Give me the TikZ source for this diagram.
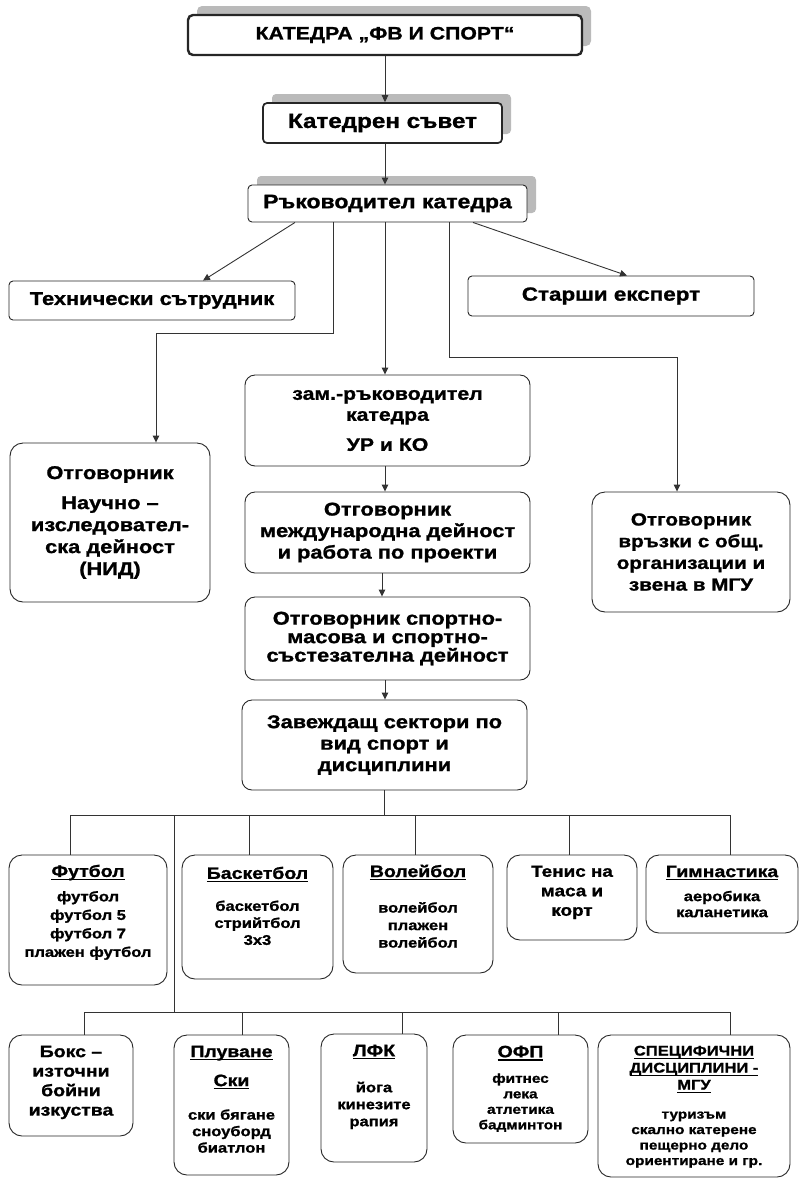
\documentclass[tikz,border=0pt]{standalone}
\usepackage{fontspec}
\setmainfont{Liberation Sans}[FakeStretch=1.18, BoldFeatures={FakeBold=1.2}]
\usetikzlibrary{arrows.meta,shadows}
\newcommand{\setfs}[2]{\fontsize{#1}{#2}\selectfont}
\newcommand{\myul}[1]{\setbox0=\hbox{#1}\leavevmode\rlap{\vrule height -2.0pt depth 3.3pt width \wd0}\box0}
\begin{document}
\begin{tikzpicture}[x=1pt,y=-1pt,
  every node/.style={align=center, inner sep=0pt, text=black},
  box/.style={draw=black!85, fill=white, line width=0.9pt, rounded corners=4pt},
  mbox/.style={box, rounded corners=10pt},
  rbox/.style={box, rounded corners=13pt},
  shad/.style={drop shadow={shadow xshift=9pt, shadow yshift=9pt, fill=black!27, opacity=1}},
  conn/.style={draw=black!80, line width=0.9pt},
  arr/.style={conn, -{Triangle[length=7pt,width=6.5pt]}},
  lbl/.style={anchor=north},
]
\useasboundingbox (0,0) rectangle (799,1179);

% ---------- top hierarchy ----------
\node[box, shad, line width=2.4pt, rounded corners=5pt, minimum width=394pt, minimum height=40pt,
      font=\bfseries\setfs{18}{21}] (top) at (385,35) {КАТЕДРА „ФВ И СПОРТ“};
\node[box, shad, line width=1.7pt, minimum width=239pt, minimum height=40pt,
      font=\bfseries\setfs{20.5}{24}] (council) at (382.5,123) {Катедрен съвет};
\node[box, shad, minimum width=279pt, minimum height=37pt,
      font=\bfseries\setfs{19.5}{23}] (head) at (387.5,203.5) {Ръководител катедра};

\node[box, minimum width=286pt, minimum height=39pt, font=\bfseries\setfs{18.5}{22}] (tech) at (152,300.5) {Технически сътрудник};
\node[box, minimum width=286pt, minimum height=40pt, font=\bfseries\setfs{19}{22}] (senior) at (611,296) {Старши експерт};

\node[rbox, minimum width=200pt, minimum height=159pt, font=\bfseries\setfs{18.5}{22}] (nid) at (110,522.5)
  {Отговорник\\[8pt]Научно –\\изследовател-\\ска дейност\\(НИД)};
\node[rbox, minimum width=198pt, minimum height=120pt, font=\bfseries\setfs{17.5}{21.7}] (links) at (691,552)
  {Отговорник\\връзки с общ.\\организации и\\звена в МГУ};

\node[mbox, minimum width=285pt, minimum height=91pt, font=\bfseries\setfs{18}{21}] (zam) at (387.5,420.5)
  {зам.-ръководител\\катедра\\[9pt]УР и КО};
\node[mbox, minimum width=285pt, minimum height=81pt, font=\bfseries\setfs{18.5}{21.5}] (intl) at (387.5,532.5)
  {Отговорник\\международна дейност\\и работа по проекти};
\node[mbox, minimum width=285pt, minimum height=83pt, font=\bfseries\setfs{18.5}{18.5}] (sport) at (387.5,638.5)
  {Отговорник спортно-\\масова и спортно-\\състезателна дейност};
\node[mbox, minimum width=285pt, minimum height=90pt, font=\bfseries\setfs{18.5}{21.5}] (sectors) at (384.5,745)
  {Завеждащ сектори по\\вид спорт и\\дисциплини};

% ---------- connectors (top) ----------
\draw[arr] (top.south) -- (top.south |- council.north);
\draw[arr] ([xshift=2.5pt]council.south) -- ([xshift=2.5pt]council.south |- head.north);
\draw[arr] ([xshift=-92.5pt]head.south) -- ([xshift=51pt]tech.north);
\draw[arr] ([xshift=85.5pt]head.south) -- ([xshift=16pt]senior.north);
\coordinate (nidknee) at (333,333);
\draw[arr] ([xshift=-54.5pt]head.south) -- (nidknee) -| ([xshift=46pt]nid.north);
\draw[arr] ([xshift=-2.5pt]head.south) -- ([xshift=-2.5pt]zam.north);
\coordinate (lknee) at (449,357);
\draw[arr] ([xshift=61.5pt]head.south) -- (lknee) -| ([xshift=-14pt]links.north);
\draw[arr] ([xshift=-2.5pt]zam.south) -- ([xshift=-2.5pt]intl.north);
\draw[arr] ([xshift=-5.5pt]intl.south) -- ([xshift=-5.5pt]intl.south |- sport.north);
\draw[arr] ([xshift=-2.5pt]sport.south) -- ([xshift=-2.5pt]sport.south |- sectors.north);

% ---------- sport boxes, row 1 ----------
\node[rbox, minimum width=158pt, minimum height=130pt] (fb) at (88,920) {};
\node[rbox, minimum width=151pt, minimum height=124pt] (bb) at (257.5,917) {};
\node[rbox, minimum width=150pt, minimum height=118pt] (vb) at (418,914) {};
\node[rbox, minimum width=130pt, minimum height=85pt] (tn) at (572,897.5) {};
\node[rbox, minimum width=152pt, minimum height=78pt] (gy) at (722,894) {};

\node[lbl, font=\bfseries\setfs{14}{18.5}] (fbt) at ([yshift=-10pt]fb.north)
  {{\setfs{16.5}{20}\myul{Футбол}}\\[6pt]футбол\\футбол 5\\футбол 7\\плажен футбол};
\node[lbl, font=\bfseries\setfs{14}{17}] (bbt) at ([yshift=-12pt]bb.north)
  {{\setfs{16.5}{20}\myul{Баскетбол}}\\[15pt]баскетбол\\стрийтбол\\3х3};
\node[lbl, font=\bfseries\setfs{14}{17.5}] (vbt) at ([yshift=-10pt]vb.north)
  {{\setfs{16.5}{20}\myul{Волейбол}}\\[18pt]волейбол\\плажен\\волейбол};
\node[lbl, font=\bfseries\setfs{16}{19.5}] (tnt) at ([yshift=-11pt]tn.north)
  {Тенис на\\маса и\\корт};
\node[lbl, font=\bfseries\setfs{14}{16}] (gyt) at ([yshift=-11pt]gy.north)
  {{\setfs{16.5}{20}\myul{Гимнастика}}\\[8pt]аеробика\\каланетика};

% ---------- sport boxes, row 2 ----------
\node[rbox, minimum width=124pt, minimum height=101pt] (bx) at (71,1085.5) {};
\node[rbox, minimum width=115pt, minimum height=140pt] (sw) at (231.5,1105) {};
\node[rbox, minimum width=106pt, minimum height=128pt] (lf) at (374,1098) {};
\node[rbox, minimum width=135pt, minimum height=108pt] (of) at (520.5,1089) {};
\node[rbox, minimum width=192pt, minimum height=142pt] (sp) at (694,1106) {};

\node[lbl, font=\bfseries\setfs{16.5}{19.5}] (bxt) at ([yshift=-11pt]bx.north)
  {Бокс –\\източни\\бойни\\изкуства};
\node[lbl, font=\bfseries\setfs{14}{16.5}] (swt) at ([yshift=-11pt]sw.north)
  {{\setfs{16.5}{20}\myul{Плуване}}\\[12.5pt]{\setfs{16.5}{20}\myul{Ски}}\\[17pt]ски бягане\\сноуборд\\биатлон};
\node[lbl, font=\bfseries\setfs{14}{17}] (lft) at ([yshift=-11pt]lf.north)
  {{\setfs{16.5}{20}\myul{ЛФК}}\\[19pt]йога\\кинезите\\рапия};
\node[lbl, font=\bfseries\setfs{13}{15.5}] (oft) at ([yshift=-11pt]of.north)
  {{\setfs{16.5}{20}\myul{ОФП}}\\[10pt]фитнес\\лека\\атлетика\\бадминтон};
\node[lbl, font=\bfseries\setfs{13}{15.5}] (spt) at ([yshift=-11pt]sp.north)
  {{\setfs{14}{17}\myul{СПЕЦИФИЧНИ}}\\[1.5pt]{\setfs{14}{17}\myul{ДИСЦИПЛИНИ -}}\\[1.5pt]{\setfs{14}{17}\myul{МГУ}}\\[13.5pt]туризъм\\скално катерене\\пещерно дело\\ориентиране и гр.};

% ---------- tree connectors (bottom) ----------
\coordinate (b1L) at (70,815);
\coordinate (b1R) at (730,815);
\coordinate (trunkT) at (174,815);
\coordinate (trunkB) at (174,1012);
\coordinate (b2L) at (84,1012);
\coordinate (b2R) at (730,1012);
\draw[conn] (sectors.south) -- (sectors.south |- b1L);
\draw[conn] (b1L) -- (b1R);
\draw[conn] (b1L) -- (b1L |- fb.north);
\draw[conn] ([xshift=-8.5pt]bb.north) -- ([xshift=-8.5pt]bb.north |- b1L);
\draw[conn] ([xshift=-3pt]vb.north) -- ([xshift=-3pt]vb.north |- b1L);
\draw[conn] ([xshift=-3pt]tn.north) -- ([xshift=-3pt]tn.north |- b1L);
\draw[conn] (b1R) -- (b1R |- gy.north);
\draw[conn] (trunkT) -- (trunkB);
\draw[conn] (b2L) -- (b2R);
\draw[conn] (b2L) -- (b2L |- bx.north);
\draw[conn] ([xshift=10.5pt]sw.north) -- ([xshift=10.5pt]sw.north |- b2L);
\draw[conn] ([xshift=28pt]lf.north) -- ([xshift=28pt]lf.north |- b2L);
\draw[conn] ([xshift=37.5pt]of.north) -- ([xshift=37.5pt]of.north |- b2L);
\draw[conn] (b2R) -- (b2R |- sp.north);
\end{tikzpicture}
\end{document}
